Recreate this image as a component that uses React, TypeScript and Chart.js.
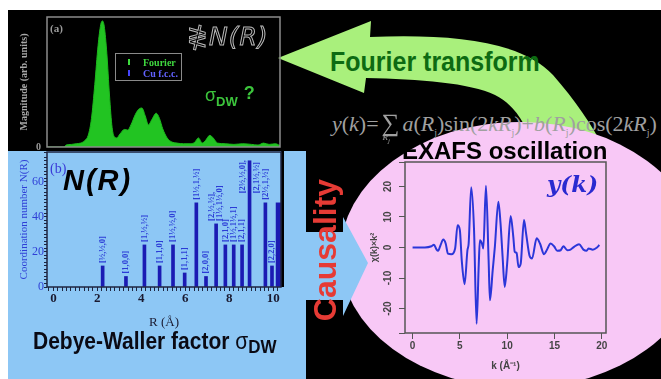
import React, { useEffect, useRef } from "react";
import { Chart, registerables } from "chart.js";

Chart.register(...registerables);

// ---------- (a) Fourier transform magnitude |FT| vs R ----------
const ftR = [-0.23, 0.55, 0.64, 0.9, 1.1, 1.3, 1.5, 1.65, 1.8, 1.95, 2.1, 2.22, 2.3, 2.38, 2.5, 2.62, 2.74, 2.86, 2.95, 3.1, 3.3, 3.45, 3.6, 3.8, 3.95, 4.1, 4.25, 4.4, 4.55, 4.75, 4.9, 5.05, 5.25, 5.45, 5.7, 6.0, 6.3, 6.5, 6.68, 6.85, 7.0, 7.2, 7.35, 7.55, 7.9, 8.3, 8.7, 9.1, 9.4, 9.65, 9.9, 10.2, 10.4];
const ftMag = [0, 0, 1.5, 2, 2.5, 3, 5, 9, 22, 48, 78, 94, 97, 93, 72, 40, 15, 7.5, 7, 10, 13.5, 13, 17, 25, 29, 30, 24, 17, 21, 26, 22, 14, 7, 4, 3, 2.5, 2.5, 3.5, 7, 3, 5, 9, 7, 3, 2.5, 2, 2.5, 2, 1.5, 3, 2, 2.5, 1];
const magAxisTicks = [0];

// ---------- (b) coordination shells N(R) ----------
const shellR = [2.24, 3.3, 4.14, 4.83, 5.44, 5.97, 6.5, 6.94, 7.4, 7.82, 8.2, 8.58, 8.92, 9.64, 9.94];
const shellN = [12, 6, 24, 12, 24, 8, 48, 6, 36, 24, 24, 24, 72, 48, 12];
const shellLabels = [
  ["[½,½,0]"], ["[1,0,0]"], ["[1,½,½]"], ["[1,1,0]"], ["[1½,½,0]"], ["[1,1,1]"],
  ["[1½,1,½]"], ["[2,0,0]"], ["[2,½,½],", "[1½,1½,0]"], ["[2,1,0]"], ["[1½,1½,1]"],
  ["[2,1,1]"], ["[2½,½,0],", "[2,1½,½]"], ["[2½,1,½]"], ["[2,2,0]"],
];
const edgeShellR = [10.24];
const edgeShellN = [48];
const rAxisTicks = [0, 2, 4, 6, 8, 10];
const nAxisTicks = [0, 20, 40, 60];

// ---------- (c) EXAFS oscillation chi(k)*k^2 ----------
const kVals = [0, 1.3, 2.0, 2.26, 2.54, 2.7, 2.96, 3.25, 3.5, 3.74, 4.1, 4.5, 4.76, 5.0, 5.2, 5.5, 5.8, 5.93, 6.2, 6.5, 6.77, 7.0, 7.12, 7.34, 7.48, 7.76, 8.04, 8.18, 8.47, 8.7, 9.07, 9.3, 9.52, 9.74, 10.0, 10.37, 10.65, 10.8, 11.0, 11.2, 11.43, 11.78, 12.0, 12.35, 12.63, 13.12, 13.47, 13.9, 14.18, 14.6, 14.96, 15.3, 15.66, 15.94, 16.37, 16.7, 17.07, 17.6, 18.06, 18.4, 18.6, 19.05, 19.5, 19.75];
const chiVals = [0, 0, 0.4, 0.9, -0.7, -1.1, 0.8, 2.6, 1.3, -2, -2.2, -0.3, 7.3, 5.7, -4.2, -12, -0.9, 1.3, 19.7, 5.7, -25, -5.3, 2.4, 1.3, -0.3, 20.2, -4.2, -17.3, -7.5, 0.2, 15, 7.9, -3.1, -12.9, -5.3, 10.3, 3.5, -1.4, -1.8, -6.4, -5.3, 9, 4.6, -2.5, -3.6, 3, 1.3, -2.2, -0.9, 1.3, 0.4, -1.1, -0.9, 0.4, -0.9, -0.7, 0.2, 1.1, -0.7, -1.1, -0.3, -0.7, 0, 0.8];
const kAxisTicks = [0, 5, 10, 15, 20];
const chiAxisTicks = [-20, -10, 0, 10, 20];

const SANS = '"Liberation Sans", Arial, sans-serif';
const SERIF = '"Liberation Serif", "Times New Roman", serif';

const isTick = (v: number, list: number[]) =>
  Math.abs(v - Math.round(v)) < 1e-6 && list.includes(Math.round(v));

// fix an axis box size and drop the label overhang padding Chart.js adds
const fixY = (w: number) => (s: any) => {
  s.width = w;
  s.paddingTop = 0;
  s.paddingBottom = 0;
};
const fixX = (h: number) => (s: any) => {
  s.height = h;
  s.paddingLeft = 0;
  s.paddingRight = 0;
};

const framePlugin = (id: string, color: string, width: number) => ({
  id,
  afterDraw(chart: any) {
    const { left, top, right, bottom } = chart.chartArea;
    const ctx = chart.ctx;
    ctx.save();
    ctx.strokeStyle = color;
    ctx.lineWidth = width;
    ctx.strokeRect(left, top, right - left, bottom - top);
    ctx.restore();
  },
});

const shellLabelPlugin = (labels: string[][]) => ({
  id: "shellLabels",
  afterDatasetsDraw(chart: any) {
    const meta = chart.getDatasetMeta(0);
    const ctx = chart.ctx;
    const top = chart.chartArea.top;
    ctx.save();
    ctx.font = `bold 8.5px ${SERIF}`;
    ctx.fillStyle = "#2b3bd6";
    ctx.textBaseline = "middle";
    ctx.textAlign = "left";
    meta.data.forEach((bar: any, i: number) => {
      const lines = labels[i];
      if (!lines) return;
      const maxW = Math.max(...lines.map((l) => ctx.measureText(l).width));
      const fits = bar.y - 3 - maxW >= top + 2;
      lines.forEach((line, j) => {
        let cx: number, by: number;
        if (fits) {
          cx = bar.x + (j - (lines.length - 1) / 2) * 8;
          by = bar.y - 3;
        } else {
          cx = bar.x + (j === 0 ? -7 : 7);
          by = top + 8 + maxW;
        }
        ctx.save();
        ctx.translate(cx, by);
        ctx.rotate(-Math.PI / 2);
        ctx.fillText(line, 0, 0);
        ctx.restore();
      });
    });
    ctx.restore();
  },
});

const rotatedYTicks = {
  id: "rotatedYTicks",
  afterDraw(chart: any) {
    const s = chart.scales.y;
    const ctx = chart.ctx;
    ctx.save();
    ctx.font = `bold 10px ${SANS}`;
    ctx.fillStyle = "#444";
    ctx.textAlign = "center";
    ctx.textBaseline = "middle";
    s.ticks.forEach((t: any) => {
      if (!isTick(t.value, chiAxisTicks)) return;
      const y = s.getPixelForValue(t.value);
      ctx.save();
      ctx.translate(s.right - 17, y);
      ctx.rotate(-Math.PI / 2);
      ctx.fillText(String(Math.round(t.value)), 0, 0);
      ctx.restore();
    });
    ctx.restore();
  },
};

function ChartBox({ make, left, top, width, height }: any) {
  const ref = useRef<HTMLCanvasElement>(null);
  useEffect(() => {
    const c = new Chart(ref.current as HTMLCanvasElement, make());
    return () => c.destroy();
  }, []);
  return (
    <canvas
      ref={ref}
      width={width}
      height={height}
      style={{ position: "absolute", left, top, width, height }}
    />
  );
}

const makeFT = (): any => ({
  type: "line",
  data: {
    datasets: [
      {
        data: ftR.map((r, i) => ({ x: r, y: ftMag[i] })),
        fill: "origin",
        backgroundColor: "#22c422",
        borderColor: "#1db81d",
        borderWidth: 1,
        pointRadius: 0,
        cubicInterpolationMode: "monotone",
      },
    ],
  },
  options: {
    animation: false,
    responsive: false,
    devicePixelRatio: 1,
    layout: { padding: { left: 6, top: 7, right: 10, bottom: 0 } },
    plugins: { legend: { display: false }, tooltip: { enabled: false } },
    scales: {
      x: {
        type: "linear",
        min: -0.23,
        max: 10.4,
        ticks: { display: false },
        grid: { display: false },
        border: { display: false },
        afterFit: fixX(4),
      },
      y: {
        min: 0,
        max: 100,
        ticks: {
          stepSize: 100,
          padding: 6,
          color: "#9a9a9a",
          font: { family: SERIF, size: 10, weight: "bold" },
          callback: (v: number) => (isTick(v, magAxisTicks) ? String(v) : ""),
        },
        grid: { display: false, drawTicks: false },
        border: { display: false },
        title: {
          display: true,
          text: "Magnitude (arb. units)",
          color: "#a8a8a8",
          font: { family: SERIF, size: 10, weight: "bold" },
          padding: { top: 4, bottom: 0 },
        },
        afterFit: fixY(33),
      },
    },
  },
  plugins: [framePlugin("frameA", "#8c8c8c", 1.5)],
});

const makeShells = (): any => ({
  type: "bar",
  data: {
    datasets: [
      {
        data: shellR.map((r, i) => ({ x: r, y: shellN[i] })),
        backgroundColor: "#1b1bb3",
        barThickness: 3,
        grouped: false,
      },
      {
        data: edgeShellR.map((r, i) => ({ x: r, y: edgeShellN[i] })),
        backgroundColor: "#1b1bb3",
        barThickness: 5,
        grouped: false,
      },
    ],
  },
  options: {
    animation: false,
    responsive: false,
    devicePixelRatio: 1,
    layout: { padding: { left: 6, top: 2, right: 25, bottom: 0 } },
    plugins: { legend: { display: false }, tooltip: { enabled: false } },
    scales: {
      x: {
        type: "linear",
        min: -0.29,
        max: 10.35,
        offset: false,
        grid: { offset: false, drawOnChartArea: false, drawTicks: true, tickLength: 4, color: "#1e2540" },
        border: { display: false },
        ticks: {
          stepSize: 0.2,
          includeBounds: false,
          autoSkip: false,
          maxTicksLimit: 200,
          maxRotation: 0,
          minRotation: 0,
          padding: 0,
          color: "#1a1a30",
          font: { family: SERIF, size: 13, weight: "bold" },
          callback: (v: number) => (isTick(v, rAxisTicks) ? String(Math.round(v)) : ""),
        },
        title: {
          display: true,
          text: "R (Å)",
          color: "#1a1a30",
          font: { family: SERIF, size: 13 },
          padding: { top: 2, bottom: 0 },
        },
        afterFit: fixX(43),
      },
      y: {
        min: 0,
        max: 77,
        grid: { drawOnChartArea: false, drawTicks: true, tickLength: 3, color: "#1e2540" },
        border: { display: false },
        ticks: {
          stepSize: 2,
          autoSkip: false,
          maxTicksLimit: 200,
          padding: 0,
          color: "#2f3fd6",
          font: { family: SERIF, size: 12 },
          callback: (v: number) => (isTick(v, nAxisTicks) ? String(Math.round(v)) : ""),
        },
        title: {
          display: true,
          text: "Coordination number N(R)",
          color: "#2f3fd6",
          font: { family: SERIF, size: 11 },
          padding: { top: 4, bottom: 0 },
        },
        afterFit: fixY(33),
      },
    },
  },
  plugins: [framePlugin("frameB", "#1e2540", 1.5), shellLabelPlugin(shellLabels)],
});

const makeExafs = (): any => ({
  type: "line",
  data: {
    datasets: [
      {
        data: kVals.map((k, i) => ({ x: k, y: chiVals[i] })),
        borderColor: "#2b36d9",
        borderWidth: 2,
        pointRadius: 0,
        fill: false,
        cubicInterpolationMode: "monotone",
      },
    ],
  },
  options: {
    animation: false,
    responsive: false,
    devicePixelRatio: 1,
    layout: { padding: { left: 0, top: 4, right: 24, bottom: 0 } },
    plugins: { legend: { display: false }, tooltip: { enabled: false } },
    scales: {
      x: {
        type: "linear",
        min: -0.8,
        max: 20.45,
        grid: { drawOnChartArea: false, drawTicks: true, tickLength: 6, color: "#555" },
        border: { display: false },
        ticks: {
          stepSize: 5,
          includeBounds: false,
          autoSkip: false,
          maxRotation: 0,
          minRotation: 0,
          padding: 1,
          color: "#444",
          font: { family: SANS, size: 10, weight: "bold" },
          callback: (v: number) => (isTick(v, kAxisTicks) ? String(Math.round(v)) : ""),
        },
        title: {
          display: true,
          text: "k (Å⁻¹)",
          color: "#444",
          font: { family: SANS, size: 10, weight: "bold" },
          padding: { top: 0, bottom: 0 },
        },
        afterFit: fixX(39),
      },
      y: {
        min: -28,
        max: 28,
        grid: { drawOnChartArea: false, drawTicks: true, tickLength: 6, color: "#555" },
        border: { display: false },
        ticks: { stepSize: 10, display: false },
        title: {
          display: true,
          text: "χ(k)×k²",
          color: "#444",
          font: { family: SANS, size: 9, weight: "bold" },
          padding: { top: 4, bottom: 0 },
        },
        afterFit: fixY(40),
      },
    },
  },
  plugins: [framePlugin("frameC", "#555", 1.5), rotatedYTicks],
});

const abs = (left: number, top: number, extra: any = {}): any => ({
  position: "absolute",
  left,
  top,
  whiteSpace: "nowrap",
  lineHeight: 1,
  ...extra,
});

export default function App() {
  return (
    <div style={{ position: "absolute", left: 0, top: 0, width: 661, height: 379, background: "#fff", overflow: "hidden" }}>
      <svg width={661} height={379} style={{ position: "absolute", left: 0, top: 0 }}>
        <rect x={8} y={10} width={653} height={369} fill="#000" />
        <path
          d="M 278 58 L 371 21 L 370 37 C 450 34 520 40 553 75 C 575 100 592 125 606 152 L 535 152 C 527 125 515 105 495 95 C 470 83 420 79 366 78 L 364 93 Z"
          fill="#a9f07c"
        />
        <ellipse cx={520} cy={255} rx={180} ry={133} fill="#f8c8f6" />
        <rect x={8} y={151} width={298} height={228} fill="#8dc7f5" />
        <polygon points="306,232 343,232 343,217 368,263 343,316 343,300 306,300" fill="#8dc7f5" />
        <rect x={281} y={151} width={3} height={136} fill="#000" />
      </svg>

      <ChartBox make={makeFT} left={8} top={10} width={282} height={141} />
      <ChartBox make={makeShells} left={8} top={150} width={298} height={180} />
      <ChartBox make={makeExafs} left={365} top={158} width={265} height={214} />

      {/* panel (a) annotations */}
      <div style={abs(50, 23, { fontFamily: SERIF, fontSize: 11, color: "#9a9a9a", fontWeight: "bold" })}>(a)</div>
      <div style={abs(115, 53, { width: 65, height: 26, border: "1.5px solid #8a8a8a", background: "#000" })}>
        <div style={abs(12, 5, { width: 2, height: 6, background: "#3ddc3d" })} />
        <div style={abs(27, 4, { fontFamily: SERIF, fontSize: 10, fontWeight: "bold", color: "#3fd83f" })}>Fourier</div>
        <div style={abs(12, 16, { width: 2, height: 6, background: "#4646ff" })} />
        <div style={abs(27, 15, { fontFamily: SERIF, fontSize: 10, fontWeight: "bold", color: "#6262ff" })}>Cu f.c.c.</div>
      </div>
      <div
        style={abs(187, 24, {
          fontFamily: '"DejaVu Sans", sans-serif',
          fontStyle: "italic",
          fontSize: 25,
          color: "transparent",
          WebkitTextStroke: "1px #b8b8b8",
          letterSpacing: 1,
        })}
      >
        ≹N(R)
      </div>
      <div style={abs(205, 86, { fontFamily: SANS, color: "#3cc43c", fontSize: 18 })}>
        σ<span style={{ fontSize: 13, fontWeight: "bold", position: "relative", top: 5 }}>DW</span>
        <span style={{ fontWeight: "bold", marginLeft: 6, position: "relative", top: -2 }}>?</span>
      </div>

      {/* Fourier transform arrow text and formula */}
      <div style={abs(330, 48, { fontFamily: SANS, fontWeight: "bold", fontSize: 25, color: "#0d6b12", transform: "scaleY(1.08)", transformOrigin: "top left" })}>
        Fourier transform
      </div>
      <div style={abs(332, 110, { fontFamily: SERIF, fontSize: 22, color: "#a0a0a0" })}>
        <i>y</i>(<i>k</i>)=
        <span style={{ position: "relative", display: "inline-block", fontSize: 25, margin: "0 3px" }}>
          ∑
          <span style={{ position: "absolute", left: 1, top: 23, fontSize: 9, fontStyle: "italic" }}>
            R<sub style={{ fontSize: 7 }}>j</sub>
          </span>
        </span>
        <i>a</i>(<i>R</i><sub style={{ fontSize: 10 }}>j</sub>)sin(2<i>kR</i><sub style={{ fontSize: 10 }}>j</sub>)+<i>b</i>(<i>R</i>
        <sub style={{ fontSize: 10 }}>j</sub>)cos(2<i>kR</i><sub style={{ fontSize: 10 }}>j</sub>)
      </div>

      {/* EXAFS panel texts */}
      <div style={abs(402, 139, { fontFamily: SANS, fontWeight: "bold", fontSize: 24, color: "#000" })}>EXAFS oscillation</div>
      <div style={abs(547, 172, { fontFamily: '"DejaVu Serif", serif', fontWeight: "bold", fontStyle: "italic", fontSize: 23, color: "#2a2ad0" })}>
        y(k)
      </div>

      {/* Causality */}
      <div
        style={abs(325, 250, {
          fontFamily: SANS,
          fontWeight: "bold",
          fontSize: 32,
          color: "#e63b35",
          transform: "translate(-50%, -50%) rotate(-90deg)",
        })}
      >
        Causality
      </div>

      {/* panel (b) texts */}
      <div style={abs(50, 162, { fontFamily: SERIF, fontSize: 14, color: "#3a3ad8" })}>(b)</div>
      <div style={abs(63, 166, { fontFamily: SANS, fontWeight: "bold", fontStyle: "italic", fontSize: 29, letterSpacing: 2, color: "#000" })}>
        N(R)
      </div>
      <div style={abs(33, 329, { fontFamily: SANS, fontWeight: "bold", fontSize: 21, color: "#0a0a14", transform: "scaleY(1.1)", transformOrigin: "top left" })}>
        Debye-Waller factor <span style={{ fontWeight: "normal" }}>σ</span>
        <span style={{ fontSize: 17, position: "relative", top: 4 }}>DW</span>
      </div>
    </div>
  );
}
